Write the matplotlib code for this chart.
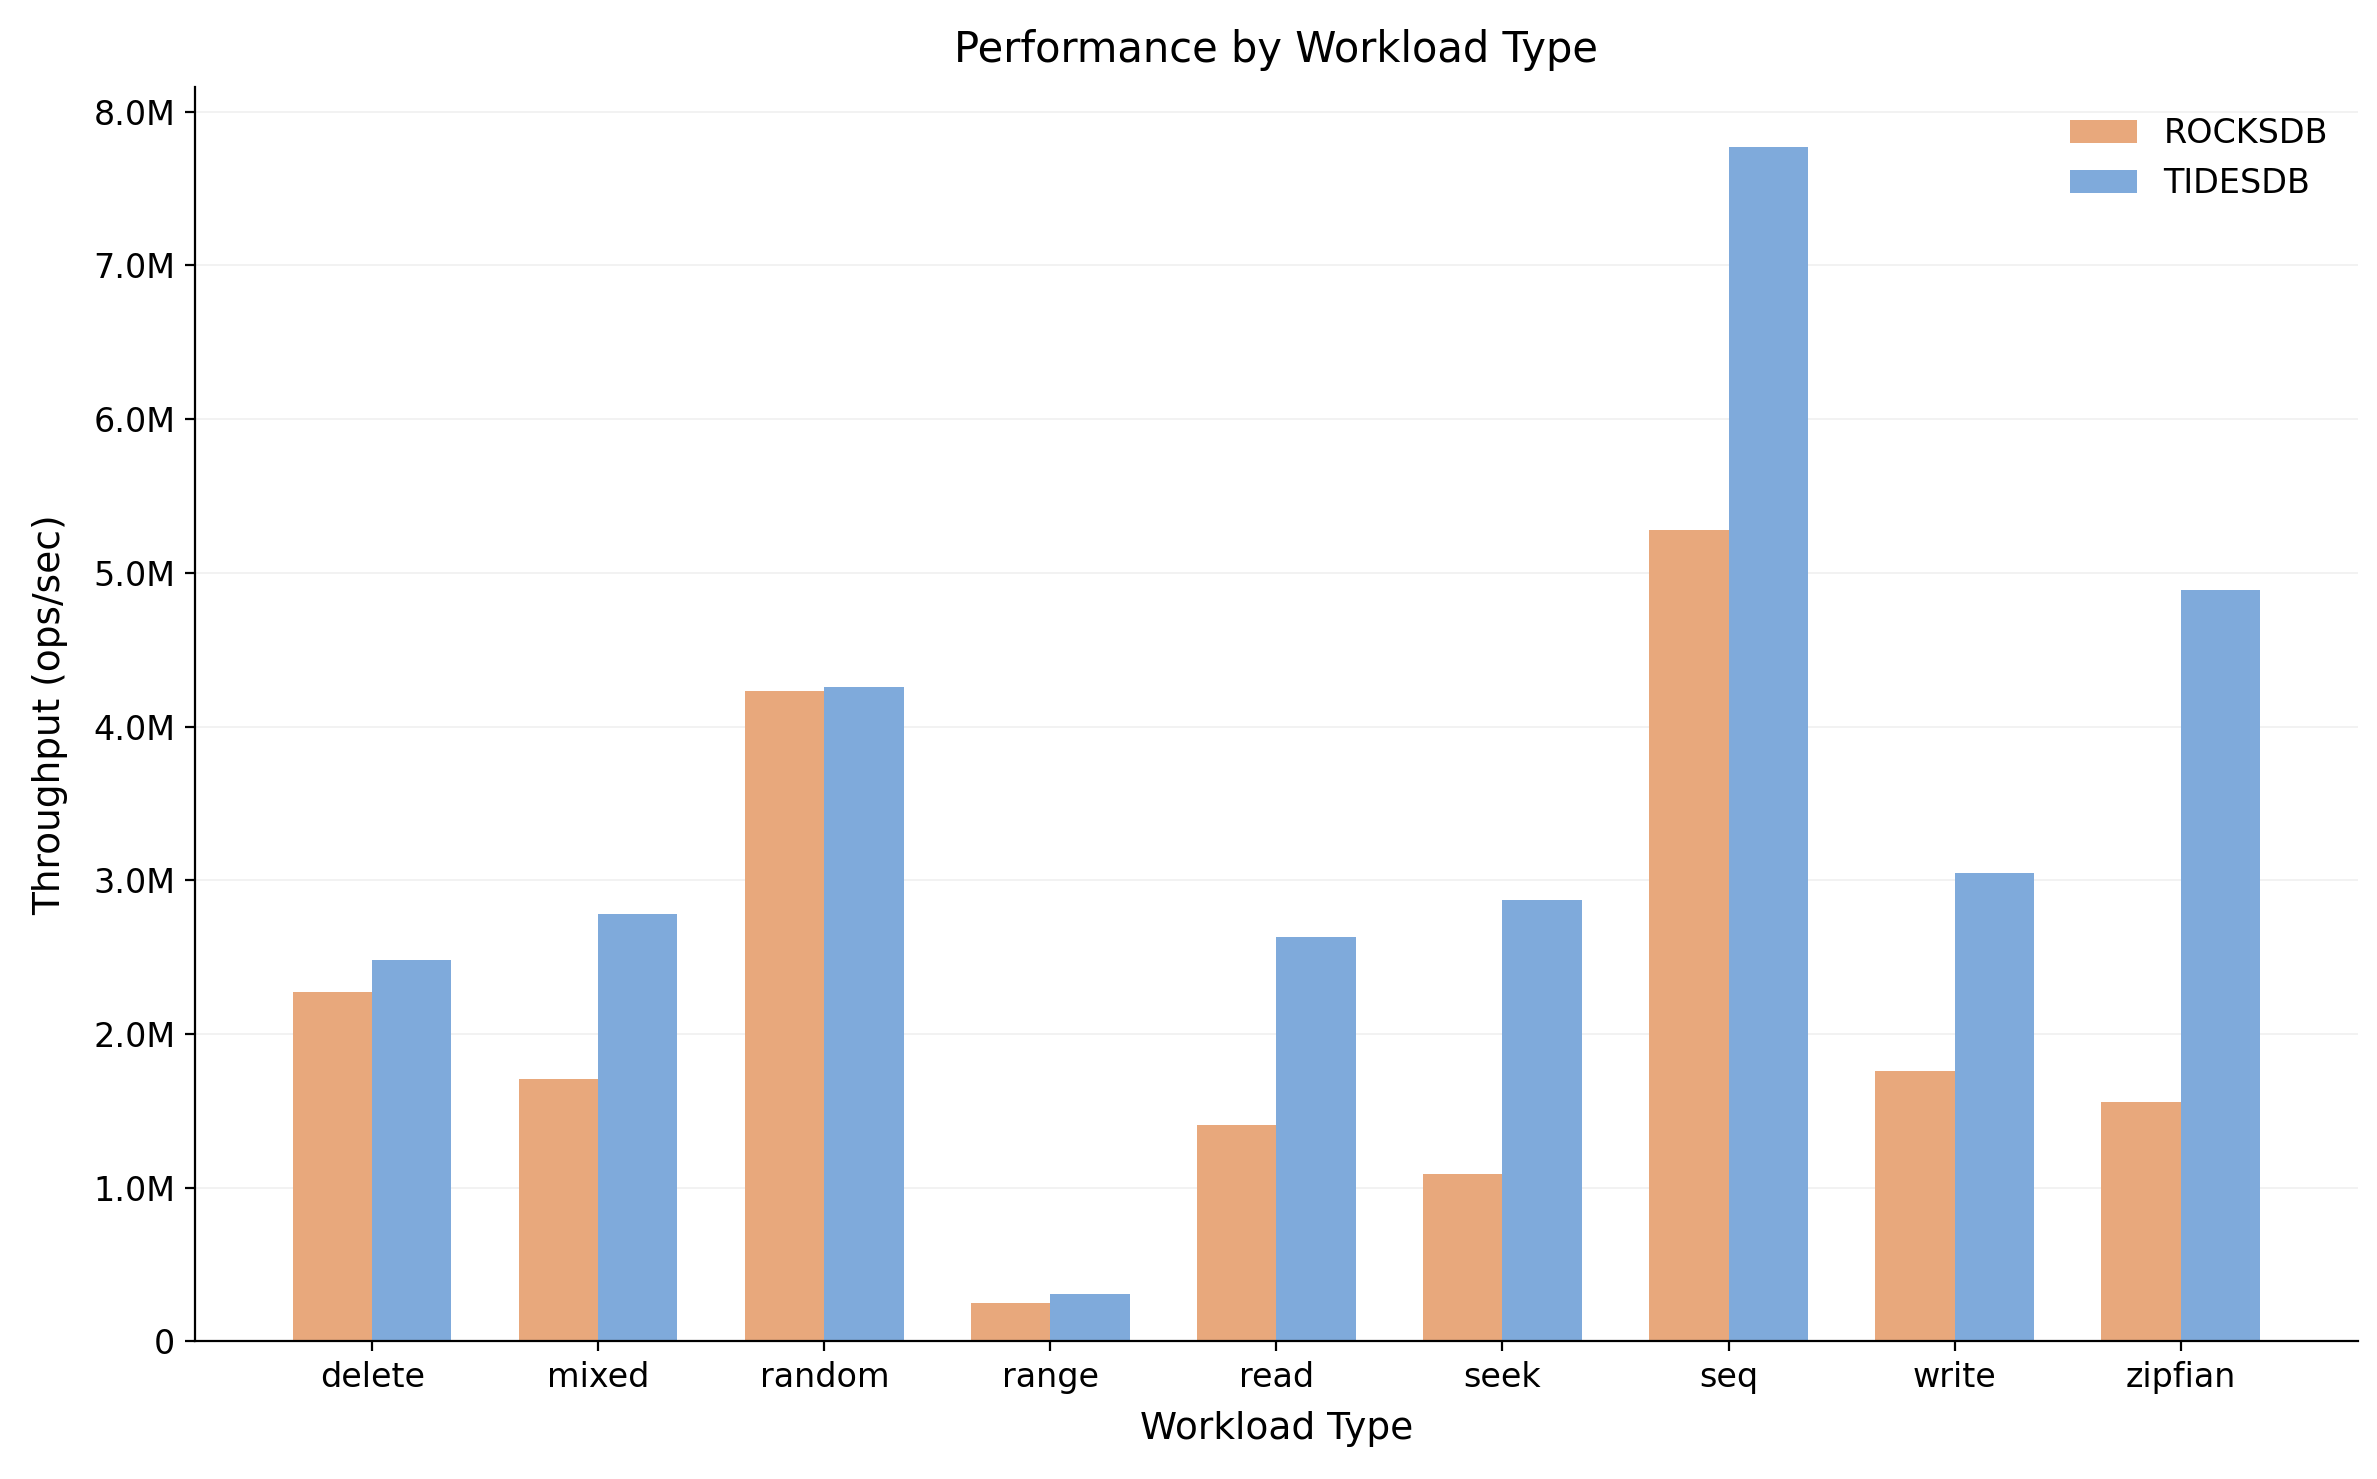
import matplotlib.pyplot as plt
import numpy as np
from matplotlib.ticker import FuncFormatter

workloads = ['delete', 'mixed', 'random', 'range', 'read', 'seek', 'seq', 'write', 'zipfian']
rocksdb = [2.27, 1.71, 4.23, 0.25, 1.41, 1.09, 5.28, 1.76, 1.56]
tidesdb = [2.48, 2.78, 4.26, 0.31, 2.63, 2.87, 7.77, 3.05, 4.89]

x = np.arange(len(workloads))
w = 0.35

fig, ax = plt.subplots(figsize=(11.885, 7.395), dpi=200)
ax.bar(x - w / 2, np.array(rocksdb) * 1e6, w, label='ROCKSDB', color='#E8A87C')
ax.bar(x + w / 2, np.array(tidesdb) * 1e6, w, label='TIDESDB', color='#7FAADB')

ax.set_xticks(x)
ax.set_xticklabels(workloads, fontsize=12)
ax.tick_params(axis='y', labelsize=12)
ax.yaxis.set_major_formatter(FuncFormatter(lambda v, p: '0' if v == 0 else f'{v/1e6:.1f}M'))
ax.set_xlabel('Workload Type', fontsize=13.5, labelpad=6)
ax.set_ylabel('Throughput (ops/sec)', fontsize=13.5, labelpad=9)
ax.set_title('Performance by Workload Type', fontsize=15, pad=9)
ax.grid(axis='y', alpha=0.3, color='#cccccc', linewidth=0.6)
ax.set_axisbelow(True)
ax.spines['top'].set_visible(False)
ax.spines['right'].set_visible(False)
ax.legend(frameon=False, fontsize=12)

plt.subplots_adjust(left=0.082, right=0.992, top=0.941, bottom=0.093)
plt.savefig('out.png', dpi=200)
